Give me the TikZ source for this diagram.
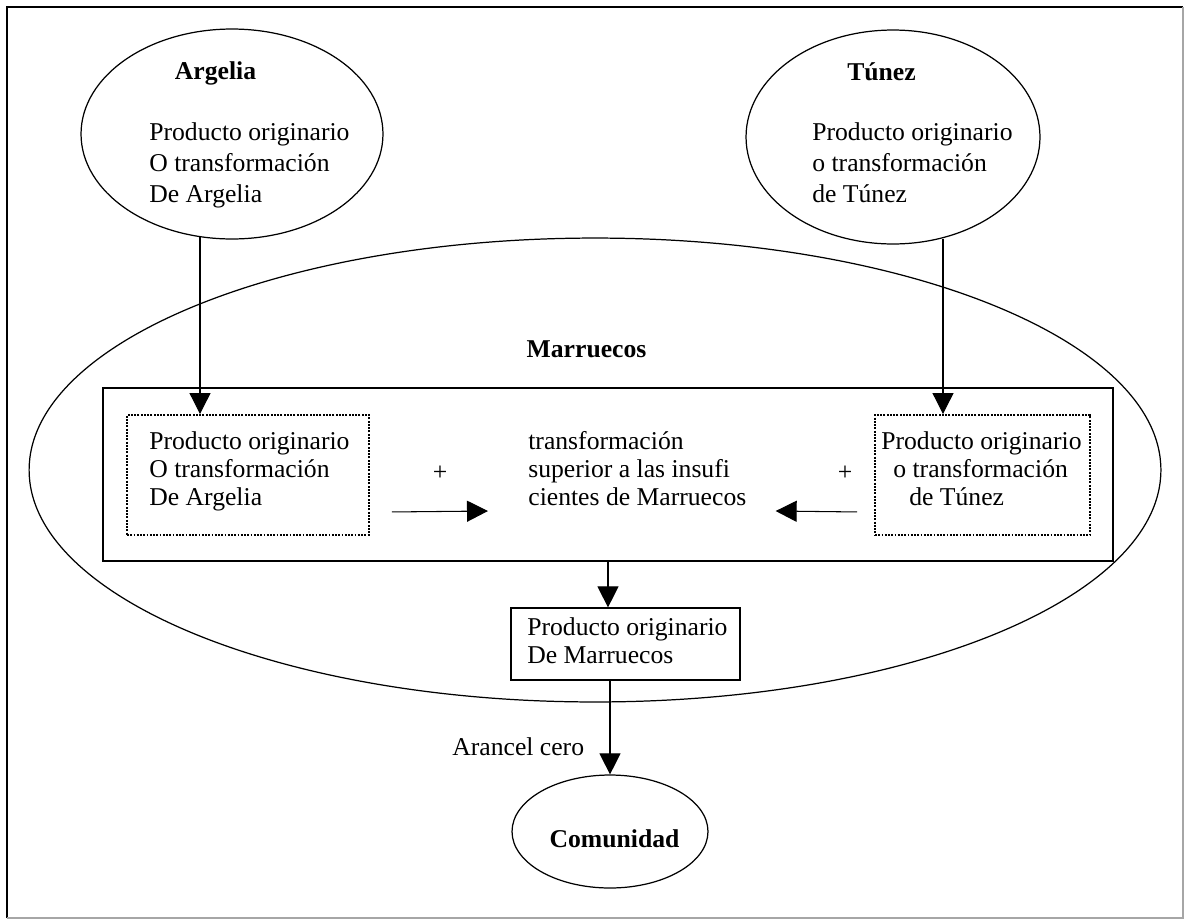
\documentclass[tikz,border=0pt]{standalone}
\usepackage{fontspec}
\setmainfont{Liberation Serif}
\usetikzlibrary{shapes.geometric,arrows.meta,calc}
\begin{document}
\begin{tikzpicture}[x={(0.02cm,0)}, y={(0,-0.02cm)},
  ell/.style={draw, ellipse, line width=0.7pt, inner sep=0pt},
  box/.style={draw, rectangle, line width=0.7pt, inner sep=0pt},
  dotbox/.style={draw, rectangle, line width=1.1pt, dash pattern=on 1.1pt off 0.75pt, inner sep=0pt},
  txt/.style={font=\fontsize{14.6}{17}\selectfont, inner sep=0pt, anchor=base west},
  ttl/.style={font=\fontsize{14.6}{17}\selectfont\bfseries, inner sep=0pt, anchor=base},
  plus/.style={font=\fontsize{14.6}{17}\selectfont, inner sep=0pt, anchor=center},
  arr/.style={line width=0.6pt, -{Triangle[length=0.42cm,width=0.42cm]}},
]
\useasboundingbox (0,0) rectangle (1185,920);

% outer frame
\draw[line width=1pt] (7,918) -- (7,7) -- (1183,7);
\draw[line width=0.8pt, black!35] (1183,7) -- (1183,918) -- (7,918);

% Argelia
\node[ell, minimum width=6.04cm, minimum height=4.2cm] (arg) at (232,134) {};
\node[ttl] (argT) at (215.5,79) {Argelia};
\node[txt] (arg1) at (149,140) {Producto originario};
\node[txt] (arg2) at (149,171) {O transformación};
\node[txt] (arg3) at (149,202) {De Argelia};

% Tunez
\node[ell, minimum width=5.88cm, minimum height=4.28cm] (tun) at (893,137) {};
\node[ttl] (tunT) at (881.5,80) {Túnez};
\node[txt] (tun1) at (812,140) {Producto originario};
\node[txt] (tun2) at (812,171) {o transformación};
\node[txt] (tun3) at (812,202) {de Túnez};

% Marruecos
\node[ell, minimum width=22.64cm, minimum height=9.28cm] (mar) at (595,470) {};
\node[ttl] (marT) at (586.5,357) {Marruecos};
\node[box, minimum width=20.2cm, minimum height=3.46cm] (rect) at (608,474.5) {};

\node[dotbox, minimum width=4.84cm, minimum height=2.4cm] (dl) at (248,475) {};
\node[txt] (dl1) at (149,449) {Producto originario};
\node[txt] (dl2) at (149,477) {O transformación};
\node[txt] (dl3) at (149,505) {De Argelia};

\node[dotbox, minimum width=4.3cm, minimum height=2.4cm] (dr) at (982.5,475) {};
\node[txt] (dr1) at (881,449) {Producto originario};
\node[txt] (dr2) at (893,477) {o transformación};
\node[txt] (dr3) at (909,505) {de Túnez};

\node[txt] (m1) at (528,449) {transformación};
\node[txt] (m2) at (528,477) {superior a las insufi};
\node[txt] (m3) at (528,505) {cientes de Marruecos};

\node[plus] (pl) at (440,473) {+};
\node[plus] (pr) at (845,473) {+};

\node[box, minimum width=4.58cm, minimum height=1.44cm] (prod) at (625.5,644) {};
\node[txt] (p1) at (527,635) {Producto originario};
\node[txt] (p2) at (527,663) {De Marruecos};

% Comunidad
\node[ell, minimum width=3.92cm, minimum height=2.26cm] (com) at (610,831.5) {};
\node[ttl] (comT) at (614.5,847) {Comunidad};
\node[txt] (ar) at (452,755) {Arancel cero};

% connectors
\draw[arr] ([shift={(-0.64cm,0.05cm)}]arg.south) -- ([xshift=-0.64cm]arg.south |- dl.north);
\draw[arr] ([shift={(1cm,0.12cm)}]tun.south) -- ([xshift=1cm]tun.south |- dr.north);
\draw[arr] ($(dl.south east)+(22,-24)$) -- ($(m3.base west)+(-40,6)$);
\draw[arr] ($(dr.south west)+(-17,-24)$) -- ($(m3.base east)+(29,6)$);
\draw[arr] (rect.south) -- (rect.south |- prod.north);
\draw[arr] (prod.south -| com.north) -- (com.north);
\end{tikzpicture}
\end{document}
